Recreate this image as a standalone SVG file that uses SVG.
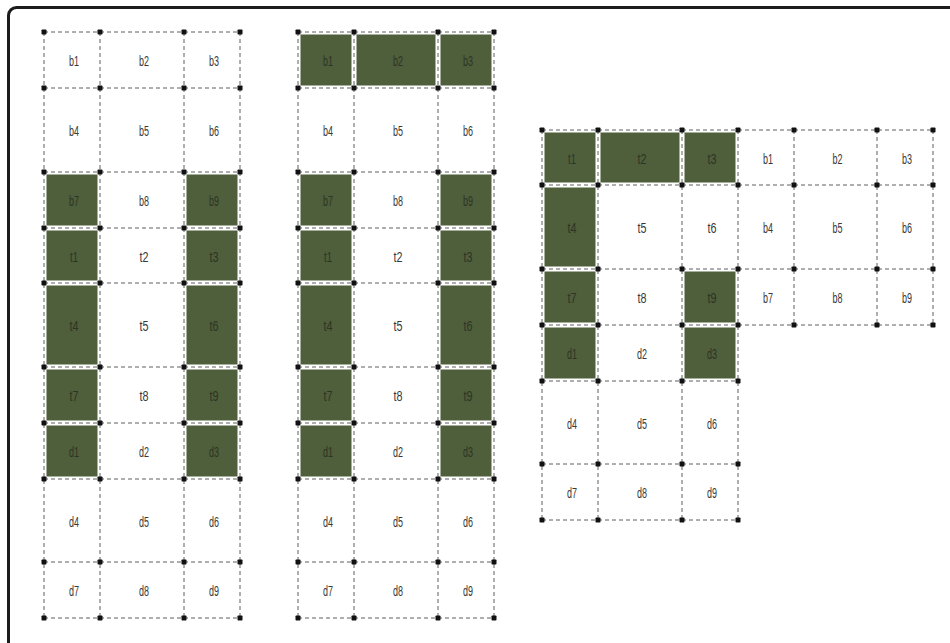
<svg xmlns="http://www.w3.org/2000/svg" xmlns:xlink="http://www.w3.org/1999/xlink" width="950" height="643" viewBox="0 0 950 643">
<style>
text{font-family:"Liberation Sans","DejaVu Sans",sans-serif;font-size:14px;fill:#383838;text-anchor:middle}
.on rect{fill:#4f5e3b}
.on text{fill:#2c3524}
.grid{fill:none;stroke:#5e5e5e;stroke-width:1;stroke-dasharray:4 3}
.dots use{fill:#111}
</style>
<defs><rect id="dot" x="-2.5" y="-2.5" width="5" height="5" rx="0.8"/></defs>
<rect x="8.5" y="7.5" width="960" height="660" rx="8" fill="#fff" stroke="#1c1c1c" stroke-width="3"/>

<g id="left-grid">
<g id="L-b1"><text x="74" y="66" textLength="10" lengthAdjust="spacingAndGlyphs">b1</text></g>
<g id="L-b2"><text x="144" y="66" textLength="10" lengthAdjust="spacingAndGlyphs">b2</text></g>
<g id="L-b3"><text x="214" y="66" textLength="10" lengthAdjust="spacingAndGlyphs">b3</text></g>
<g id="L-b4"><text x="74" y="136" textLength="10" lengthAdjust="spacingAndGlyphs">b4</text></g>
<g id="L-b5"><text x="144" y="136" textLength="10" lengthAdjust="spacingAndGlyphs">b5</text></g>
<g id="L-b6"><text x="214" y="136" textLength="10" lengthAdjust="spacingAndGlyphs">b6</text></g>
<g id="L-b7" class="on"><rect x="46.5" y="174.5" width="51" height="51"/><text x="74" y="206" textLength="10" lengthAdjust="spacingAndGlyphs">b7</text></g>
<g id="L-b8"><text x="144" y="206" textLength="10" lengthAdjust="spacingAndGlyphs">b8</text></g>
<g id="L-b9" class="on"><rect x="186.5" y="174.5" width="51" height="51"/><text x="214" y="206" textLength="10" lengthAdjust="spacingAndGlyphs">b9</text></g>
<g id="L-t1" class="on"><rect x="46.5" y="230.5" width="51" height="50"/><text x="74" y="261.5" textLength="8" lengthAdjust="spacingAndGlyphs">t1</text></g>
<g id="L-t2"><text x="144" y="261.5" textLength="9" lengthAdjust="spacingAndGlyphs">t2</text></g>
<g id="L-t3" class="on"><rect x="186.5" y="230.5" width="51" height="50"/><text x="214" y="261.5" textLength="9" lengthAdjust="spacingAndGlyphs">t3</text></g>
<g id="L-t4" class="on"><rect x="46.5" y="285.5" width="51" height="79"/><text x="74" y="331" textLength="9" lengthAdjust="spacingAndGlyphs">t4</text></g>
<g id="L-t5"><text x="144" y="331" textLength="9" lengthAdjust="spacingAndGlyphs">t5</text></g>
<g id="L-t6" class="on"><rect x="186.5" y="285.5" width="51" height="79"/><text x="214" y="331" textLength="9" lengthAdjust="spacingAndGlyphs">t6</text></g>
<g id="L-t7" class="on"><rect x="46.5" y="369.5" width="51" height="51"/><text x="74" y="401" textLength="9" lengthAdjust="spacingAndGlyphs">t7</text></g>
<g id="L-t8"><text x="144" y="401" textLength="9" lengthAdjust="spacingAndGlyphs">t8</text></g>
<g id="L-t9" class="on"><rect x="186.5" y="369.5" width="51" height="51"/><text x="214" y="401" textLength="9" lengthAdjust="spacingAndGlyphs">t9</text></g>
<g id="L-d1" class="on"><rect x="46.5" y="425.5" width="51" height="51"/><text x="74" y="457" textLength="10" lengthAdjust="spacingAndGlyphs">d1</text></g>
<g id="L-d2"><text x="144" y="457" textLength="10" lengthAdjust="spacingAndGlyphs">d2</text></g>
<g id="L-d3" class="on"><rect x="186.5" y="425.5" width="51" height="51"/><text x="214" y="457" textLength="10" lengthAdjust="spacingAndGlyphs">d3</text></g>
<g id="L-d4"><text x="74" y="526.5" textLength="10" lengthAdjust="spacingAndGlyphs">d4</text></g>
<g id="L-d5"><text x="144" y="526.5" textLength="10" lengthAdjust="spacingAndGlyphs">d5</text></g>
<g id="L-d6"><text x="214" y="526.5" textLength="10" lengthAdjust="spacingAndGlyphs">d6</text></g>
<g id="L-d7"><text x="74" y="596" textLength="10" lengthAdjust="spacingAndGlyphs">d7</text></g>
<g id="L-d8"><text x="144" y="596" textLength="10" lengthAdjust="spacingAndGlyphs">d8</text></g>
<g id="L-d9"><text x="214" y="596" textLength="10" lengthAdjust="spacingAndGlyphs">d9</text></g>
</g>

<g id="middle-grid">
<g id="M-b1" class="on"><rect x="300.5" y="34.5" width="51" height="51"/><text x="328" y="66" textLength="10" lengthAdjust="spacingAndGlyphs">b1</text></g>
<g id="M-b2" class="on"><rect x="356.5" y="34.5" width="79" height="51"/><text x="398" y="66" textLength="10" lengthAdjust="spacingAndGlyphs">b2</text></g>
<g id="M-b3" class="on"><rect x="440.5" y="34.5" width="51" height="51"/><text x="468" y="66" textLength="10" lengthAdjust="spacingAndGlyphs">b3</text></g>
<g id="M-b4"><text x="328" y="136" textLength="10" lengthAdjust="spacingAndGlyphs">b4</text></g>
<g id="M-b5"><text x="398" y="136" textLength="10" lengthAdjust="spacingAndGlyphs">b5</text></g>
<g id="M-b6"><text x="468" y="136" textLength="10" lengthAdjust="spacingAndGlyphs">b6</text></g>
<g id="M-b7" class="on"><rect x="300.5" y="174.5" width="51" height="51"/><text x="328" y="206" textLength="10" lengthAdjust="spacingAndGlyphs">b7</text></g>
<g id="M-b8"><text x="398" y="206" textLength="10" lengthAdjust="spacingAndGlyphs">b8</text></g>
<g id="M-b9" class="on"><rect x="440.5" y="174.5" width="51" height="51"/><text x="468" y="206" textLength="10" lengthAdjust="spacingAndGlyphs">b9</text></g>
<g id="M-t1" class="on"><rect x="300.5" y="230.5" width="51" height="50"/><text x="328" y="261.5" textLength="8" lengthAdjust="spacingAndGlyphs">t1</text></g>
<g id="M-t2"><text x="398" y="261.5" textLength="9" lengthAdjust="spacingAndGlyphs">t2</text></g>
<g id="M-t3" class="on"><rect x="440.5" y="230.5" width="51" height="50"/><text x="468" y="261.5" textLength="9" lengthAdjust="spacingAndGlyphs">t3</text></g>
<g id="M-t4" class="on"><rect x="300.5" y="285.5" width="51" height="79"/><text x="328" y="331" textLength="9" lengthAdjust="spacingAndGlyphs">t4</text></g>
<g id="M-t5"><text x="398" y="331" textLength="9" lengthAdjust="spacingAndGlyphs">t5</text></g>
<g id="M-t6" class="on"><rect x="440.5" y="285.5" width="51" height="79"/><text x="468" y="331" textLength="9" lengthAdjust="spacingAndGlyphs">t6</text></g>
<g id="M-t7" class="on"><rect x="300.5" y="369.5" width="51" height="51"/><text x="328" y="401" textLength="9" lengthAdjust="spacingAndGlyphs">t7</text></g>
<g id="M-t8"><text x="398" y="401" textLength="9" lengthAdjust="spacingAndGlyphs">t8</text></g>
<g id="M-t9" class="on"><rect x="440.5" y="369.5" width="51" height="51"/><text x="468" y="401" textLength="9" lengthAdjust="spacingAndGlyphs">t9</text></g>
<g id="M-d1" class="on"><rect x="300.5" y="425.5" width="51" height="51"/><text x="328" y="457" textLength="10" lengthAdjust="spacingAndGlyphs">d1</text></g>
<g id="M-d2"><text x="398" y="457" textLength="10" lengthAdjust="spacingAndGlyphs">d2</text></g>
<g id="M-d3" class="on"><rect x="440.5" y="425.5" width="51" height="51"/><text x="468" y="457" textLength="10" lengthAdjust="spacingAndGlyphs">d3</text></g>
<g id="M-d4"><text x="328" y="526.5" textLength="10" lengthAdjust="spacingAndGlyphs">d4</text></g>
<g id="M-d5"><text x="398" y="526.5" textLength="10" lengthAdjust="spacingAndGlyphs">d5</text></g>
<g id="M-d6"><text x="468" y="526.5" textLength="10" lengthAdjust="spacingAndGlyphs">d6</text></g>
<g id="M-d7"><text x="328" y="596" textLength="10" lengthAdjust="spacingAndGlyphs">d7</text></g>
<g id="M-d8"><text x="398" y="596" textLength="10" lengthAdjust="spacingAndGlyphs">d8</text></g>
<g id="M-d9"><text x="468" y="596" textLength="10" lengthAdjust="spacingAndGlyphs">d9</text></g>
</g>

<g id="right-grid">
<g id="R-t1" class="on"><rect x="544.5" y="132.5" width="51" height="50"/><text x="572" y="163.5" textLength="8" lengthAdjust="spacingAndGlyphs">t1</text></g>
<g id="R-t2" class="on"><rect x="600.5" y="132.5" width="79" height="50"/><text x="642" y="163.5" textLength="9" lengthAdjust="spacingAndGlyphs">t2</text></g>
<g id="R-t3" class="on"><rect x="684.5" y="132.5" width="51" height="50"/><text x="712" y="163.5" textLength="9" lengthAdjust="spacingAndGlyphs">t3</text></g>
<g id="R-t4" class="on"><rect x="544.5" y="187.5" width="51" height="79"/><text x="572" y="233" textLength="9" lengthAdjust="spacingAndGlyphs">t4</text></g>
<g id="R-t5"><text x="642" y="233" textLength="9" lengthAdjust="spacingAndGlyphs">t5</text></g>
<g id="R-t6"><text x="712" y="233" textLength="9" lengthAdjust="spacingAndGlyphs">t6</text></g>
<g id="R-t7" class="on"><rect x="544.5" y="271.5" width="51" height="51"/><text x="572" y="303" textLength="9" lengthAdjust="spacingAndGlyphs">t7</text></g>
<g id="R-t8"><text x="642" y="303" textLength="9" lengthAdjust="spacingAndGlyphs">t8</text></g>
<g id="R-t9" class="on"><rect x="684.5" y="271.5" width="51" height="51"/><text x="712" y="303" textLength="9" lengthAdjust="spacingAndGlyphs">t9</text></g>
<g id="R-b1"><text x="768" y="163.5" textLength="10" lengthAdjust="spacingAndGlyphs">b1</text></g>
<g id="R-b2"><text x="837.5" y="163.5" textLength="10" lengthAdjust="spacingAndGlyphs">b2</text></g>
<g id="R-b3"><text x="907" y="163.5" textLength="10" lengthAdjust="spacingAndGlyphs">b3</text></g>
<g id="R-b4"><text x="768" y="233" textLength="10" lengthAdjust="spacingAndGlyphs">b4</text></g>
<g id="R-b5"><text x="837.5" y="233" textLength="10" lengthAdjust="spacingAndGlyphs">b5</text></g>
<g id="R-b6"><text x="907" y="233" textLength="10" lengthAdjust="spacingAndGlyphs">b6</text></g>
<g id="R-b7"><text x="768" y="303" textLength="10" lengthAdjust="spacingAndGlyphs">b7</text></g>
<g id="R-b8"><text x="837.5" y="303" textLength="10" lengthAdjust="spacingAndGlyphs">b8</text></g>
<g id="R-b9"><text x="907" y="303" textLength="10" lengthAdjust="spacingAndGlyphs">b9</text></g>
<g id="R-d1" class="on"><rect x="544.5" y="327.5" width="51" height="51"/><text x="572" y="359" textLength="10" lengthAdjust="spacingAndGlyphs">d1</text></g>
<g id="R-d2"><text x="642" y="359" textLength="10" lengthAdjust="spacingAndGlyphs">d2</text></g>
<g id="R-d3" class="on"><rect x="684.5" y="327.5" width="51" height="51"/><text x="712" y="359" textLength="10" lengthAdjust="spacingAndGlyphs">d3</text></g>
<g id="R-d4"><text x="572" y="428.5" textLength="10" lengthAdjust="spacingAndGlyphs">d4</text></g>
<g id="R-d5"><text x="642" y="428.5" textLength="10" lengthAdjust="spacingAndGlyphs">d5</text></g>
<g id="R-d6"><text x="712" y="428.5" textLength="10" lengthAdjust="spacingAndGlyphs">d6</text></g>
<g id="R-d7"><text x="572" y="498" textLength="10" lengthAdjust="spacingAndGlyphs">d7</text></g>
<g id="R-d8"><text x="642" y="498" textLength="10" lengthAdjust="spacingAndGlyphs">d8</text></g>
<g id="R-d9"><text x="712" y="498" textLength="10" lengthAdjust="spacingAndGlyphs">d9</text></g>
</g>

<g id="connectors">
<path class="grid" d="M44 32H240M44 88H240M44 172H240M44 228H240M44 283H240M44 367H240M44 423H240M44 479H240M44 562H240M44 618H240M44 32V618M100 32V618M184 32V618M240 32V618"/>
<path class="grid" d="M298 32H494M298 88H494M298 172H494M298 228H494M298 283H494M298 367H494M298 423H494M298 479H494M298 562H494M298 618H494M298 32V618M354 32V618M438 32V618M494 32V618"/>
<path class="grid" d="M542 130H933M542 185H933M542 269H933M542 325H933M542 381H738M542 464H738M542 520H738M542 130V520M598 130V520M682 130V520M738 130V520M794 130V325M877 130V325M933 130V325"/>
</g>

<g id="dots" class="dots">
<use xlink:href="#dot" x="44" y="32"/><use xlink:href="#dot" x="100" y="32"/><use xlink:href="#dot" x="184" y="32"/><use xlink:href="#dot" x="240" y="32"/>
<use xlink:href="#dot" x="44" y="88"/><use xlink:href="#dot" x="100" y="88"/><use xlink:href="#dot" x="184" y="88"/><use xlink:href="#dot" x="240" y="88"/>
<use xlink:href="#dot" x="44" y="172"/><use xlink:href="#dot" x="100" y="172"/><use xlink:href="#dot" x="184" y="172"/><use xlink:href="#dot" x="240" y="172"/>
<use xlink:href="#dot" x="44" y="228"/><use xlink:href="#dot" x="100" y="228"/><use xlink:href="#dot" x="184" y="228"/><use xlink:href="#dot" x="240" y="228"/>
<use xlink:href="#dot" x="44" y="283"/><use xlink:href="#dot" x="100" y="283"/><use xlink:href="#dot" x="184" y="283"/><use xlink:href="#dot" x="240" y="283"/>
<use xlink:href="#dot" x="44" y="367"/><use xlink:href="#dot" x="100" y="367"/><use xlink:href="#dot" x="184" y="367"/><use xlink:href="#dot" x="240" y="367"/>
<use xlink:href="#dot" x="44" y="423"/><use xlink:href="#dot" x="100" y="423"/><use xlink:href="#dot" x="184" y="423"/><use xlink:href="#dot" x="240" y="423"/>
<use xlink:href="#dot" x="44" y="479"/><use xlink:href="#dot" x="100" y="479"/><use xlink:href="#dot" x="184" y="479"/><use xlink:href="#dot" x="240" y="479"/>
<use xlink:href="#dot" x="44" y="562"/><use xlink:href="#dot" x="100" y="562"/><use xlink:href="#dot" x="184" y="562"/><use xlink:href="#dot" x="240" y="562"/>
<use xlink:href="#dot" x="44" y="618"/><use xlink:href="#dot" x="100" y="618"/><use xlink:href="#dot" x="184" y="618"/><use xlink:href="#dot" x="240" y="618"/>
<use xlink:href="#dot" x="298" y="32"/><use xlink:href="#dot" x="354" y="32"/><use xlink:href="#dot" x="438" y="32"/><use xlink:href="#dot" x="494" y="32"/>
<use xlink:href="#dot" x="298" y="88"/><use xlink:href="#dot" x="354" y="88"/><use xlink:href="#dot" x="438" y="88"/><use xlink:href="#dot" x="494" y="88"/>
<use xlink:href="#dot" x="298" y="172"/><use xlink:href="#dot" x="354" y="172"/><use xlink:href="#dot" x="438" y="172"/><use xlink:href="#dot" x="494" y="172"/>
<use xlink:href="#dot" x="298" y="228"/><use xlink:href="#dot" x="354" y="228"/><use xlink:href="#dot" x="438" y="228"/><use xlink:href="#dot" x="494" y="228"/>
<use xlink:href="#dot" x="298" y="283"/><use xlink:href="#dot" x="354" y="283"/><use xlink:href="#dot" x="438" y="283"/><use xlink:href="#dot" x="494" y="283"/>
<use xlink:href="#dot" x="298" y="367"/><use xlink:href="#dot" x="354" y="367"/><use xlink:href="#dot" x="438" y="367"/><use xlink:href="#dot" x="494" y="367"/>
<use xlink:href="#dot" x="298" y="423"/><use xlink:href="#dot" x="354" y="423"/><use xlink:href="#dot" x="438" y="423"/><use xlink:href="#dot" x="494" y="423"/>
<use xlink:href="#dot" x="298" y="479"/><use xlink:href="#dot" x="354" y="479"/><use xlink:href="#dot" x="438" y="479"/><use xlink:href="#dot" x="494" y="479"/>
<use xlink:href="#dot" x="298" y="562"/><use xlink:href="#dot" x="354" y="562"/><use xlink:href="#dot" x="438" y="562"/><use xlink:href="#dot" x="494" y="562"/>
<use xlink:href="#dot" x="298" y="618"/><use xlink:href="#dot" x="354" y="618"/><use xlink:href="#dot" x="438" y="618"/><use xlink:href="#dot" x="494" y="618"/>
<use xlink:href="#dot" x="542" y="130"/><use xlink:href="#dot" x="598" y="130"/><use xlink:href="#dot" x="682" y="130"/><use xlink:href="#dot" x="738" y="130"/><use xlink:href="#dot" x="794" y="130"/><use xlink:href="#dot" x="877" y="130"/><use xlink:href="#dot" x="933" y="130"/>
<use xlink:href="#dot" x="542" y="185"/><use xlink:href="#dot" x="598" y="185"/><use xlink:href="#dot" x="682" y="185"/><use xlink:href="#dot" x="738" y="185"/><use xlink:href="#dot" x="794" y="185"/><use xlink:href="#dot" x="877" y="185"/><use xlink:href="#dot" x="933" y="185"/>
<use xlink:href="#dot" x="542" y="269"/><use xlink:href="#dot" x="598" y="269"/><use xlink:href="#dot" x="682" y="269"/><use xlink:href="#dot" x="738" y="269"/><use xlink:href="#dot" x="794" y="269"/><use xlink:href="#dot" x="877" y="269"/><use xlink:href="#dot" x="933" y="269"/>
<use xlink:href="#dot" x="542" y="325"/><use xlink:href="#dot" x="598" y="325"/><use xlink:href="#dot" x="682" y="325"/><use xlink:href="#dot" x="738" y="325"/><use xlink:href="#dot" x="794" y="325"/><use xlink:href="#dot" x="877" y="325"/><use xlink:href="#dot" x="933" y="325"/>
<use xlink:href="#dot" x="542" y="381"/><use xlink:href="#dot" x="598" y="381"/><use xlink:href="#dot" x="682" y="381"/><use xlink:href="#dot" x="738" y="381"/>
<use xlink:href="#dot" x="542" y="464"/><use xlink:href="#dot" x="598" y="464"/><use xlink:href="#dot" x="682" y="464"/><use xlink:href="#dot" x="738" y="464"/>
<use xlink:href="#dot" x="542" y="520"/><use xlink:href="#dot" x="598" y="520"/><use xlink:href="#dot" x="682" y="520"/><use xlink:href="#dot" x="738" y="520"/>
</g>
</svg>
